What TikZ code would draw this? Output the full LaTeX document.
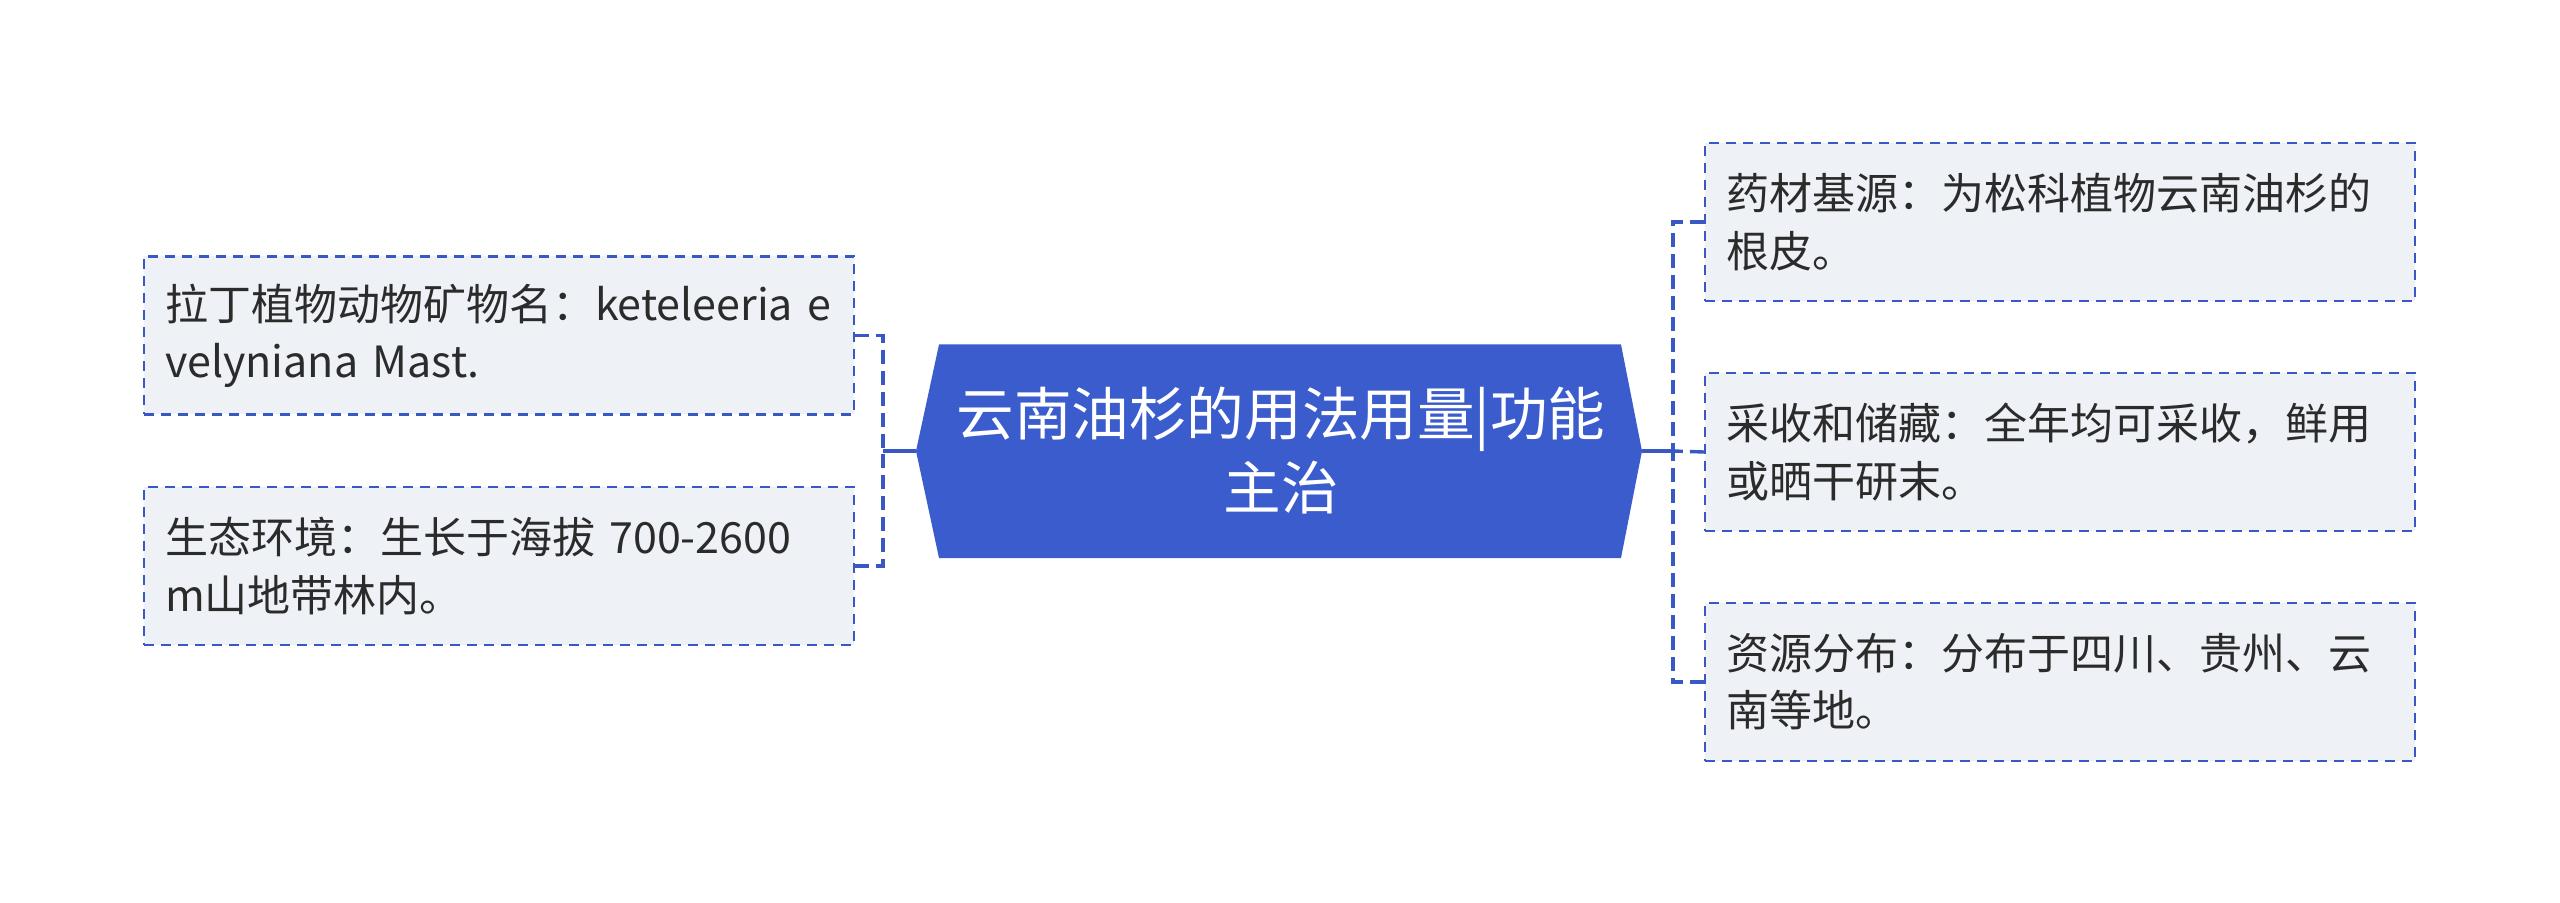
\documentclass[tikz,border=0pt]{standalone}
\usepackage{fontspec}
\setmainfont{Noto Sans CJK SC}
\definecolor{hexblue}{HTML}{3B5CCC}
\definecolor{linkblue}{HTML}{3A58C4}
\definecolor{boxfill}{HTML}{EEF1F5}
\definecolor{txt}{HTML}{2B2B2B}
\tikzset{
  leaf/.style={draw=linkblue, fill=boxfill, line width=1.2pt, dash pattern=on 5pt off 3.5pt,
    minimum width=355pt, minimum height=79pt, inner xsep=10.5pt, inner ysep=0pt,
    text width=334pt, align=left, text=txt,
    font=\fontsize{21.5}{28.6}\selectfont},
  conn/.style={draw=linkblue, line width=1.7pt, dash pattern=on 7pt off 3.5pt},
  trunk/.style={draw=linkblue, line width=1.7pt},
  centertext/.style={text=white, align=center, font=\fontsize{28.8}{37}\selectfont, inner sep=0pt}
}
\begin{document}
\begin{tikzpicture}[x=0.5pt,y=-0.5pt]
\useasboundingbox (0,0) rectangle (2560,903);
% centre hexagon
\fill[hexblue] (916,451) -- (939,344.5) -- (1621,344.5) -- (1642,451) -- (1621,558) -- (939,558) -- cycle;
\node[centertext] (c) at (1281,451) {云南油杉的用法用量|功能\\主治};
\coordinate (cl) at (916,451);
\coordinate (cr) at (1642,451);
% leaves
\node[leaf] (l1) at (499,335.5) {拉丁植物动物矿物名：keteleeria e\\velyniana Mast.};
\node[leaf] (l2) at (499,566) {生态环境：生长于海拔 700-2600\\m山地带林内。};
\node[leaf] (r1) at (2060,222) {药材基源：为松科植物云南油杉的\\根皮。};
\node[leaf] (r2) at (2060,452) {采收和储藏：全年均可采收，鲜用\\或晒干研末。};
\node[leaf] (r3) at (2060,682) {资源分布：分布于四川、贵州、云\\南等地。};
% junctions
\coordinate (lj) at (883,451);
\coordinate (rj) at (1673,451);
\draw[trunk] (cl) -- (lj);
\draw[trunk] (cr) -- (rj);
\draw[conn] (l1.east) -| (lj);
\draw[conn] (l2.east) -| (lj);
\draw[conn] (r1.west) -| (rj);
\draw[conn] (r2.west) -- (rj);
\draw[conn] (r3.west) -| (rj);
\end{tikzpicture}
\end{document}
